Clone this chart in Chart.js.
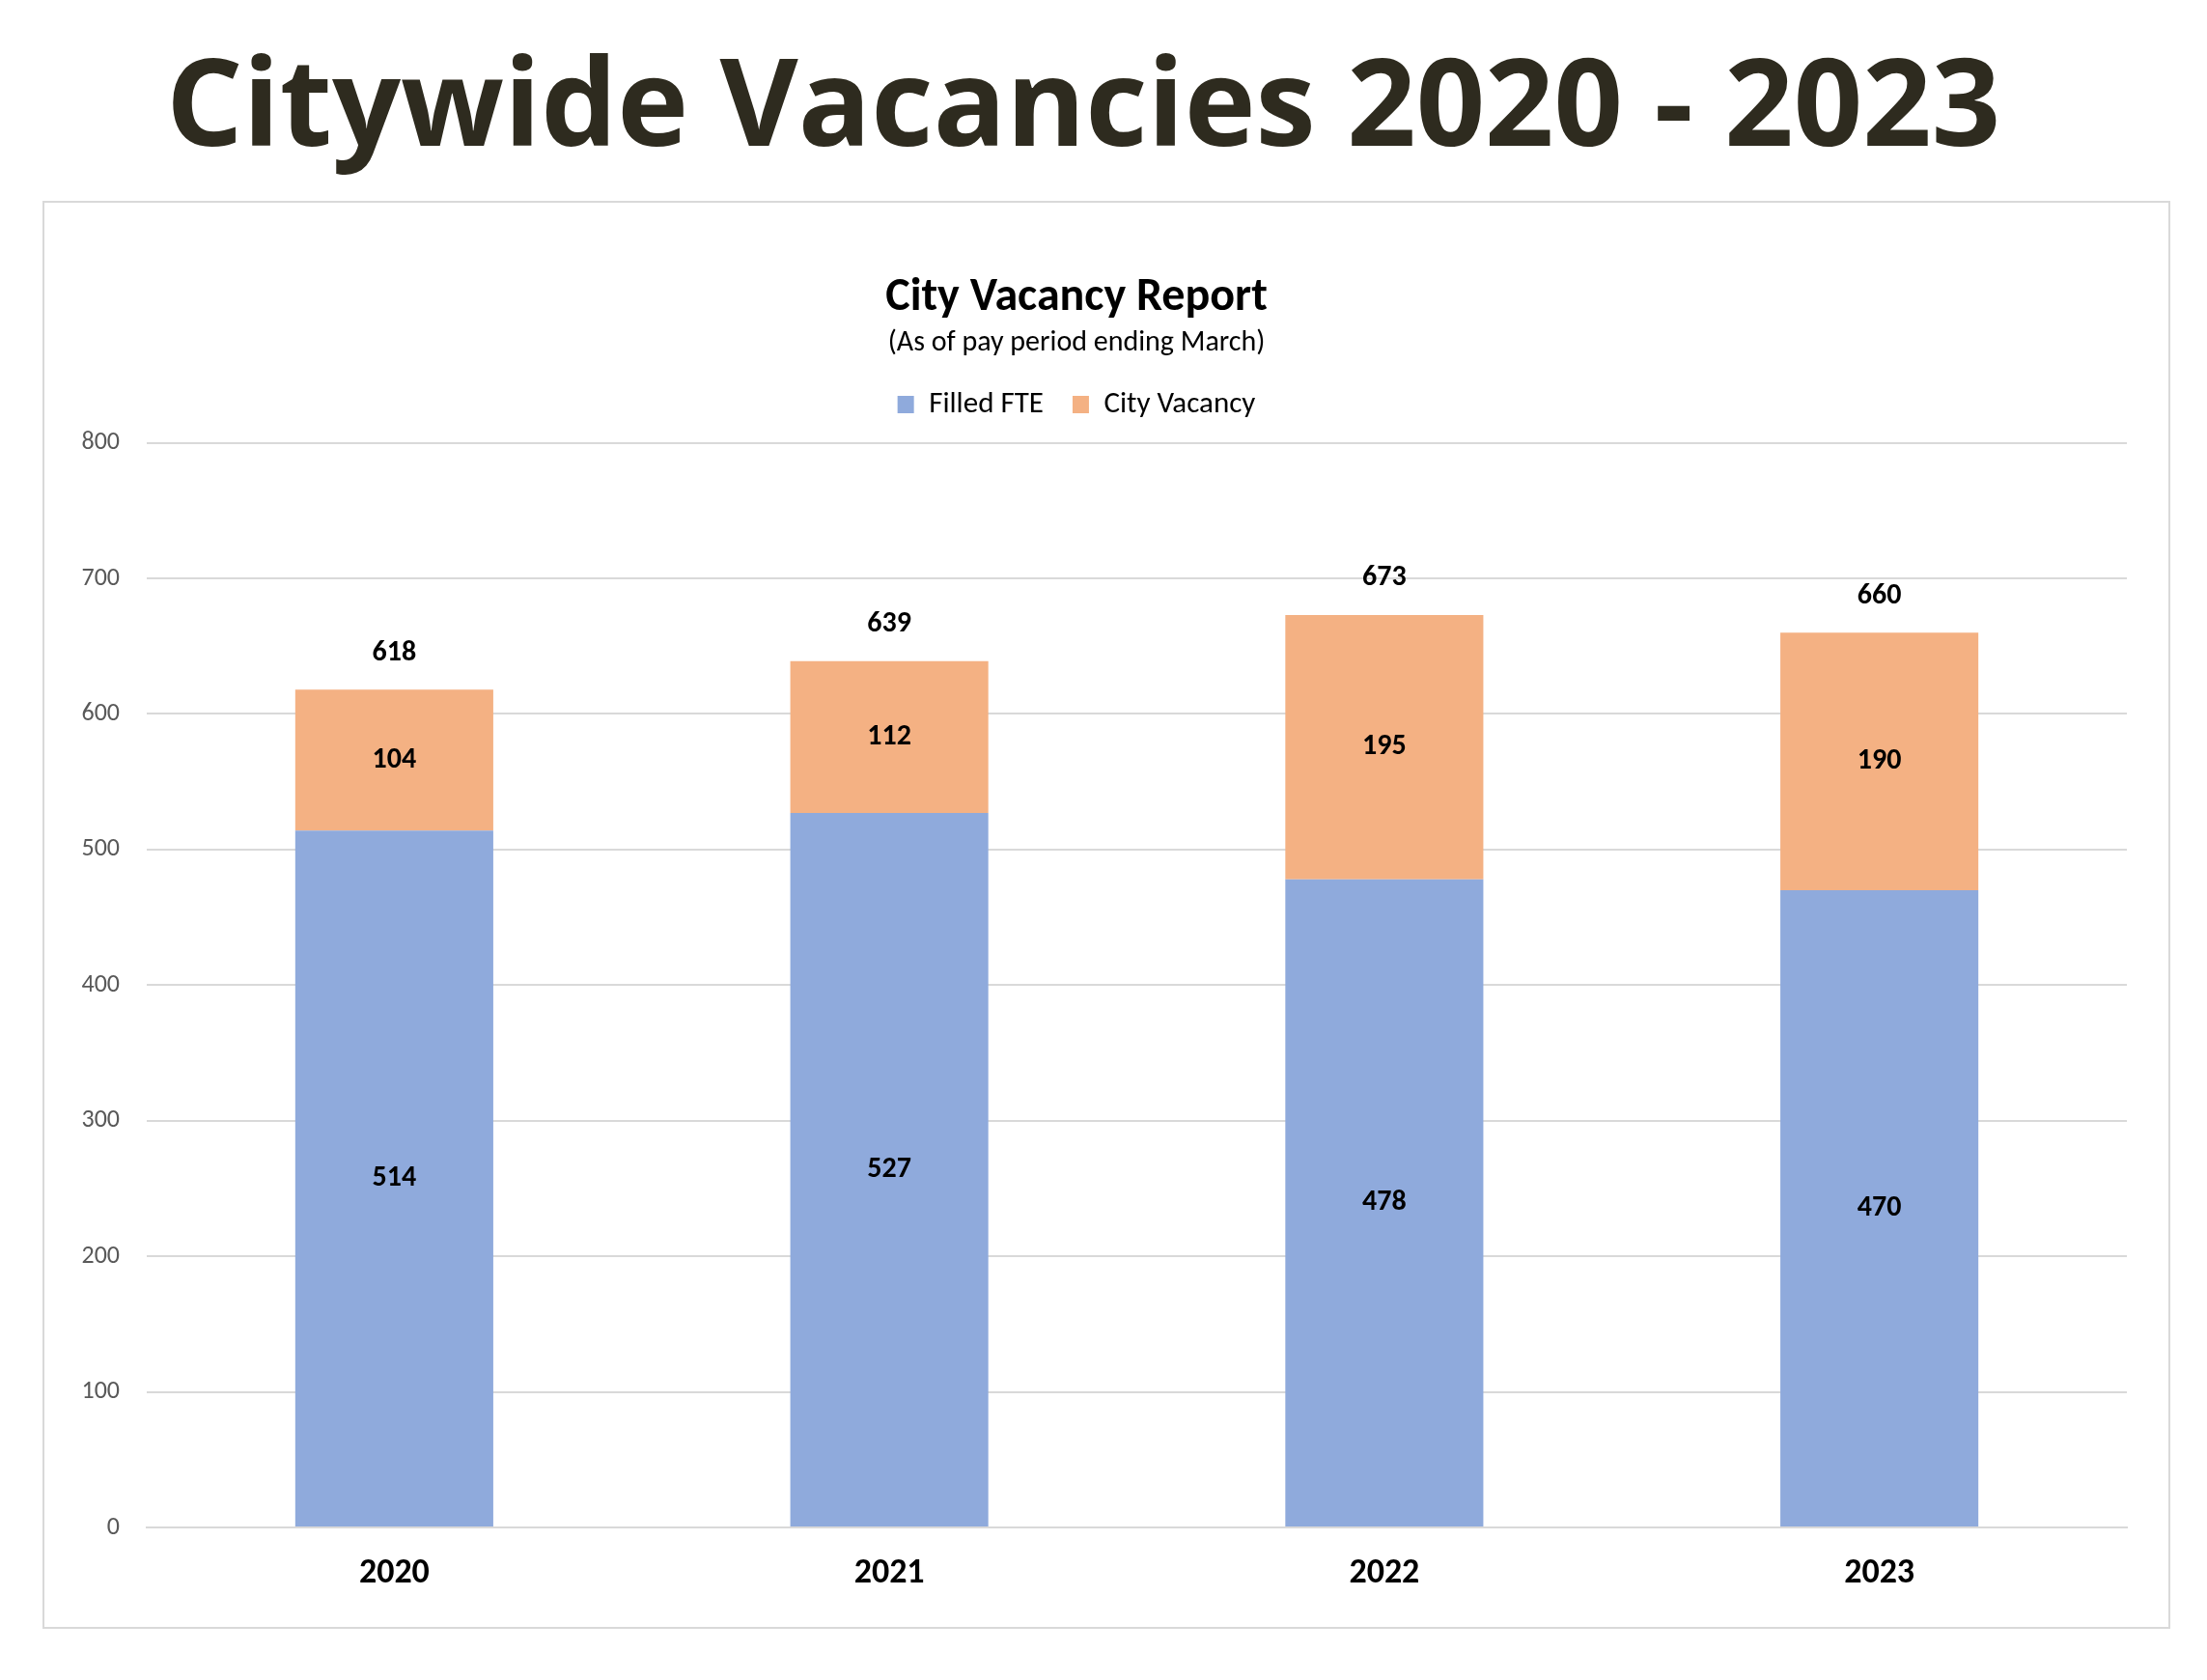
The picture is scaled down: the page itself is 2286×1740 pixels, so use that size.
<!DOCTYPE html>
<html>
<head>
<meta charset="utf-8">
<script src="https://cdn.jsdelivr.net/npm/chart.js@4/dist/chart.umd.min.js"></script>
<style>
  html, body { margin: 0; padding: 0; background: #ffffff; }
  body { width: 2286px; height: 1740px; position: relative; overflow: hidden; }
  #pageTitle {
    position: absolute; left: 0; top: 40px; width: 2244px;
    text-align: center; font-family: "Open Sans", sans-serif; font-weight: 700;
    font-size: 125px; line-height: 125px; color: #2e2b1f; white-space: nowrap;
  }
  #frame {
    position: absolute; left: 44px; top: 208px; width: 2204px; height: 1479px;
    box-sizing: border-box; border: 2px solid #d9d9d9;
  }
  #wrap { position: absolute; left: 0; top: 208px; width: 2286px; height: 1479px; }
</style>
</head>
<body>
<div id="pageTitle">Citywide Vacancies 2020 - 2023</div>
<div id="frame"></div>
<div id="wrap"><canvas id="c" width="2286" height="1479"></canvas></div>
<script>
const categories = ["2020", "2021", "2022", "2023"];
const filledFTE = [514, 527, 478, 470];
const cityVacancy = [104, 112, 195, 190];
const yTicks = [0, 100, 200, 300, 400, 500, 600, 700, 800];
const chartTitle = "City Vacancy Report";
const chartSubtitle = "(As of pay period ending March)";
const seriesNames = ["Filled FTE", "City Vacancy"];

const FONT = "Carlito, Lato, sans-serif";
Chart.defaults.font.family = FONT;

const labelPlugin = {
  id: 'valueLabels',
  afterInit(chart) {
    // extra gap between legend and plot area
    const lg = chart.legend;
    if (lg) {
      const origFit = lg.fit.bind(lg);
      lg.fit = function () { origFit(); this.height += 14; };
    }
  },
  afterDatasetsDraw(chart) {
    const ctx = chart.ctx;
    ctx.save();
    ctx.font = "bold 30px " + FONT;
    ctx.fillStyle = "#000000";
    ctx.textAlign = "center";
    ctx.textBaseline = "middle";
    const metas = chart.data.datasets.map((d, i) => chart.getDatasetMeta(i));
    metas.forEach((meta, di) => {
      meta.data.forEach((el, i) => {
        const v = chart.data.datasets[di].data[i];
        ctx.fillText(String(v), el.x, (el.y + el.base) / 2);
      });
    });
    const last = metas[metas.length - 1];
    last.data.forEach((el, i) => {
      let total = 0;
      chart.data.datasets.forEach(d => total += d.data[i]);
      ctx.fillText(String(total), el.x, el.y - 38);
    });
    ctx.restore();
  }
};

new Chart(document.getElementById('c'), {
  type: 'bar',
  data: {
    labels: categories,
    datasets: [
      { label: seriesNames[0], data: filledFTE, backgroundColor: '#8FAADC', borderWidth: 0,
        categoryPercentage: 1.0, barPercentage: 0.4 },
      { label: seriesNames[1], data: cityVacancy, backgroundColor: '#F4B183', borderWidth: 0,
        categoryPercentage: 1.0, barPercentage: 0.4 }
    ]
  },
  options: {
    responsive: false,
    devicePixelRatio: 1,
    animation: false,
    layout: { padding: { left: 27, right: 83, top: 0, bottom: 0 } },
    plugins: {
      tooltip: { enabled: false },
      title: {
        display: true, text: chartTitle, color: '#000000',
        font: { size: 48, weight: 'bold', family: FONT },
        padding: { top: 72, bottom: 0 }
      },
      subtitle: {
        display: true, text: chartSubtitle, color: '#000000',
        font: { size: 30, weight: 'normal', family: FONT },
        padding: { top: 0, bottom: 0 }
      },
      legend: {
        display: true, position: 'top',
        labels: {
          color: '#000000', boxWidth: 17, boxHeight: 18, padding: 30,
          font: { size: 31, family: FONT }
        }
      }
    },
    scales: {
      x: {
        stacked: true,
        grid: { display: false, drawTicks: false },
        border: { display: true, color: '#d9d9d9', width: 2 },
        ticks: { color: '#000000', font: { size: 36, weight: 'bold', family: FONT }, padding: 26 },
        afterFit(scale) { scale.height = 105; }
      },
      y: {
        stacked: true, min: 0, max: 800,
        afterBuildTicks(scale) { scale.ticks = yTicks.map(v => ({ value: v })); },
        grid: { color: '#d9d9d9', lineWidth: 2, drawTicks: false },
        border: { display: false },
        ticks: { color: '#595959', font: { size: 26, family: FONT }, padding: 28 },
        afterFit(scale) { scale.width = 125; }
      }
    }
  },
  plugins: [labelPlugin]
});
</script>
</body>
</html>
